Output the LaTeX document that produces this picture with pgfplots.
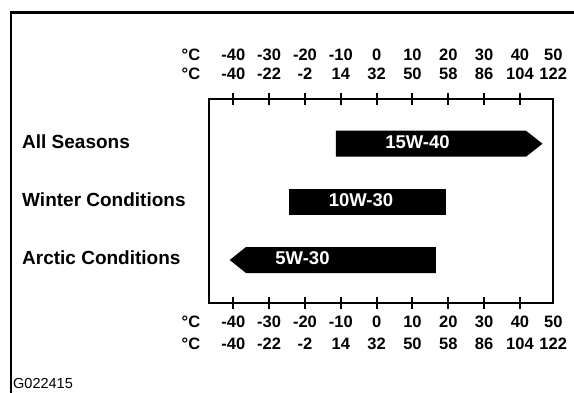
\documentclass[border=0pt]{standalone}
\usepackage{fontspec}
\setmainfont{Liberation Sans}
\usepackage{pgfplots}
\pgfplotsset{compat=1.18}
\begin{document}
\begin{tikzpicture}[x=1pt,y=1pt]
\path[use as bounding box] (0,0) rectangle (574,-392);
\draw[line width=2.7pt, line join=miter] (11,-396) -- (11,-12.5) -- (578,-12.5);
\node[anchor=west, inner sep=0pt, font=\fontsize{14.5}{16}\selectfont] at (13,-383.5) {G022415};
% degree labels
\foreach \yy in {60.9,79.9,327,349.6}{
  \node[anchor=base west, inner sep=0pt, font=\fontsize{16.5}{19}\selectfont\bfseries] at (181.5,-\yy) {°C};
}
\begin{axis}[
  at={(209.3pt,-303pt)}, anchor=south west,
  scale only axis, width=344pt, height=204pt,
  xmin=-46.70, xmax=49.31, ymin=0.2605, ymax=3.769,
  axis line style={line width=2pt, black},
  xtick={-40,-30,...,40},
  xticklabels={{-40\\-40},{-30\\-22},{-20\\-2},{-10\\14},{0\\32},{10\\50},{20\\58},{30\\86},{40\\104}},
  extra x ticks={49.3},
  extra x tick labels={{50\\122}},
  extra x tick style={major tick length=0pt, xticklabel style={yshift=-6pt}},
  xtick pos=both, xticklabel pos=lower, xtick align=center,
  major tick length=12pt,
  x tick style={line width=2pt, black},
  xticklabel style={anchor=north, align=center, inner sep=0pt, font=\fontsize{16.5}{22.6}\selectfont\bfseries},
  xticklabel shift=6.4pt,
  ytick={1,2,3},
  yticklabels={Arctic Conditions,Winter Conditions,All Seasons},
  y tick style={draw=none},
  yticklabel style={anchor=west, inner sep=0pt, xshift=-187.3pt, yshift=2pt, font=\fontsize{19}{22}\selectfont\bfseries},
  clip=false,
]
\addplot[fill=black, draw=none] coordinates {(-11.34,2.7764) (41.69,2.7764) (46.30,3) (41.69,3.2236) (-11.34,3.2236)} -- cycle;
\addplot[fill=black, draw=none] coordinates {(-24.54,1.7764) (19.36,1.7764) (19.36,2.2236) (-24.54,2.2236)} -- cycle;
\addplot[fill=black, draw=none] coordinates {(-41.0,1) (-36.46,0.7764) (16.57,0.7764) (16.57,1.2236) (-36.46,1.2236)} -- cycle;
\node[text=white, font=\fontsize{18.5}{20}\selectfont\bfseries, yshift=1.5pt] at (axis cs:11.41,3) {15W-40};
\node[text=white, font=\fontsize{18.5}{20}\selectfont\bfseries, yshift=1.5pt] at (axis cs:-4.36,2) {10W-30};
\node[text=white, font=\fontsize{18.5}{20}\selectfont\bfseries, yshift=1.5pt] at (axis cs:-20.69,1) {5W-30};
\end{axis}
\begin{axis}[
  at={(209.3pt,-303pt)}, anchor=south west,
  scale only axis, width=344pt, height=204pt,
  xmin=-46.70, xmax=49.31, ymin=0.2605, ymax=3.769,
  axis line style={draw=none},
  xtick={-40,-30,...,40},
  xticklabels={{-40\\-40},{-30\\-22},{-20\\-2},{-10\\14},{0\\32},{10\\50},{20\\58},{30\\86},{40\\104}},
  extra x ticks={49.3},
  extra x tick labels={{50\\122}},
  major tick length=0pt,
  x tick style={draw=none},
  extra x tick style={major tick length=0pt},
  xticklabel pos=upper,
  xticklabel style={anchor=south, align=center, inner sep=0pt, font=\fontsize{16.5}{19}\selectfont\bfseries},
  xticklabel shift=19.1pt,
  ytick=\empty,
]
\end{axis}
\end{tikzpicture}
\end{document}
